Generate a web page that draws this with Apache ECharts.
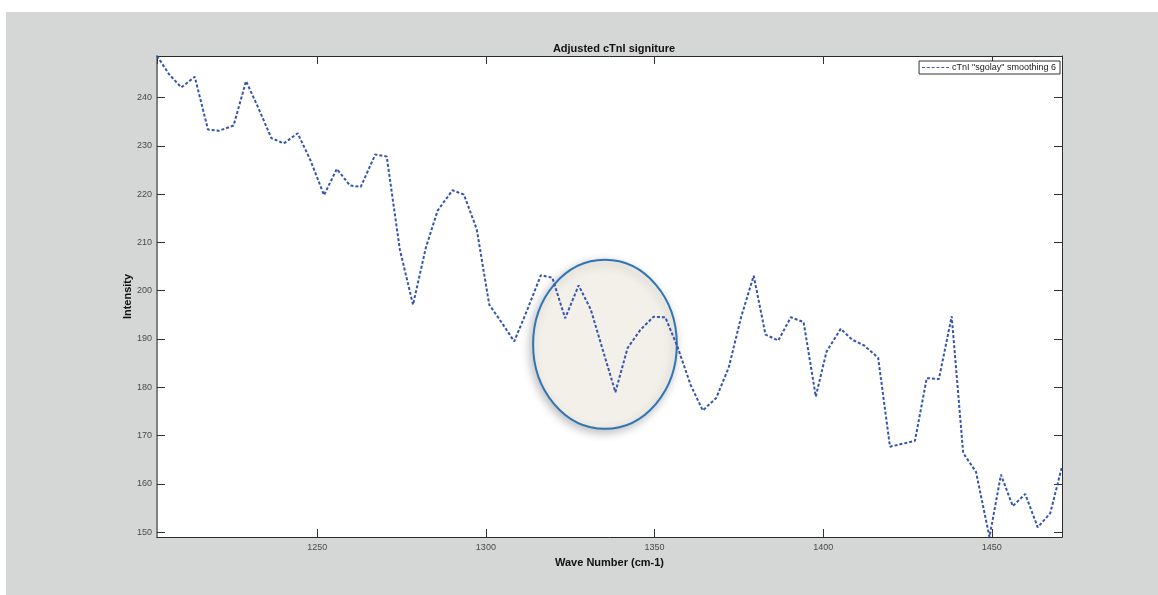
<!DOCTYPE html>
<html>
<head>
<meta charset="utf-8">
<title>Adjusted cTnI signiture</title>
<script src="https://cdn.jsdelivr.net/npm/echarts@6/dist/echarts.min.js"></script>
<style>
    html, body { margin: 0; padding: 0; background: #fff; }
    #frame { position: absolute; left: 6px; top: 12px; right: 0; bottom: 0; background: #d5d6d6; }
    #main { position: absolute; left: 0; top: 0; width: 1158px; height: 595px; }
</style>
</head>
<body>
<div id="frame"></div>
<div id="main"></div>
<script>
// wave numbers (cm-1)
var waveNumbers = [
    1202.5, 1206.1, 1209.7, 1213.7, 1217.6, 1220.8, 1225.2, 1228.9, 1232.7, 1236.4,
    1240.1, 1244.2, 1248.0, 1252.0, 1255.8, 1259.7, 1262.9, 1267.2, 1270.6, 1274.5,
    1278.4, 1282.2, 1285.7, 1290.1, 1293.5, 1297.3, 1301.0, 1304.7, 1308.4, 1312.3,
    1316.3, 1319.7, 1323.5, 1327.5, 1331.1, 1334.8, 1338.4, 1342.0, 1345.8, 1349.7,
    1353.2, 1356.8, 1360.7, 1364.3, 1368.3, 1372.0, 1375.7, 1379.4, 1382.9, 1386.7,
    1390.4, 1394.2, 1397.8, 1401.0, 1405.2, 1408.5, 1412.3, 1416.3, 1419.8, 1423.5,
    1427.2, 1430.7, 1434.3, 1438.1, 1441.5, 1445.3, 1449.3, 1452.7, 1456.2, 1459.9,
    1463.6, 1467.3, 1470.8
];
// smoothed intensity
var intensity = [
    248.6, 244.8, 242.1, 244.3, 233.4, 233.1, 234.2, 243.4, 237.6, 231.6,
    230.5, 232.6, 227.0, 219.8, 225.2, 221.8, 221.5, 228.2, 227.8, 208.5,
    197.1, 208.9, 216.6, 220.8, 219.9, 212.7, 197.1, 193.4, 189.5, 196.1,
    203.2, 202.7, 194.3, 201.1, 196.1, 187.4, 179.0, 188.1, 191.9, 194.6,
    194.5, 188.4, 180.5, 175.2, 177.8, 184.1, 194.6, 203.1, 190.9, 189.7,
    194.5, 193.5, 178.1, 187.4, 192.1, 189.9, 188.6, 186.1, 167.7, 168.3,
    168.9, 181.9, 181.7, 194.7, 166.4, 162.5, 149.0, 161.9, 155.4, 157.9,
    151.0, 153.9, 163.6
];
var seriesName = 'cTnI "sgolay" smoothing 6';
// highlighted region: centre and half-widths in data units
var markCenter = [1335.3, 188.9];
var markRadius = [21.3, 17.5];

var myChart = echarts.init(document.getElementById('main'));

var points = [];
for (var i = 0; i < waveNumbers.length; i++) {
    points.push([waveNumbers[i], intensity[i]]);
}

var xMin = Math.min.apply(null, waveNumbers), xMax = Math.max.apply(null, waveNumbers);
var yMin = Math.min.apply(null, intensity), yMax = Math.max.apply(null, intensity);

var font = 'Liberation Sans, Arial, sans-serif';
var labelColor = '#4a4a4a';
var frameLine = { show: true, onZero: false, lineStyle: { color: '#2b2b2b', width: 1 } };
// dashed legend sample, like the matlab one
var dashIcon = 'path://M0,0h3v1h-3z M5,0h3v1h-3z M10,0h3v1h-3z M15,0h3v1h-3z M20,0h3v1h-3z M25,0h3v1h-3z';

function plainNum(v) { return String(v); }

var option = {
    backgroundColor: 'transparent',
    animation: false,
    title: {
        text: 'Adjusted cTnI signiture',
        left: 609,
        textAlign: 'center',
        top: 38,
        textStyle: { fontSize: 11, fontWeight: 'bold', color: '#111', fontFamily: font }
    },
    legend: {
        right: 98,
        top: 61,
        padding: [2, 4, 2, 3],
        itemWidth: 27,
        itemHeight: 3,
        itemGap: 4,
        borderColor: '#333',
        borderWidth: 1,
        borderRadius: 0,
        backgroundColor: '#fff',
        textStyle: { fontSize: 9, color: '#222', fontFamily: font, padding: [0, 0, 0, -2] },
        data: [{ name: seriesName, icon: dashIcon }]
    },
    grid: {
        left: 157, right: 96, top: 56, bottom: 58,
        outerBoundsMode: 'none',
        show: true,
        backgroundColor: '#fff',
        borderWidth: 0
    },
    xAxis: [{
        type: 'value',
        min: xMin, max: xMax,
        minInterval: 50, maxInterval: 50,
        name: 'Wave Number (cm-1)',
        nameLocation: 'middle',
        nameGap: 20,
        nameMoveOverlap: false,
        nameTextStyle: { fontSize: 11, fontWeight: 'bold', color: '#111', fontFamily: font },
        axisLine: frameLine,
        axisTick: { inside: true, length: 8, lineStyle: { color: '#333' } },
        axisLabel: { showMinLabel: false, showMaxLabel: false, margin: 6, formatter: plainNum, color: labelColor, fontSize: 9, fontFamily: font },
        splitLine: { show: false }
    }, {
        type: 'value',
        position: 'top',
        min: xMin, max: xMax,
        minInterval: 50, maxInterval: 50,
        axisLine: frameLine,
        axisTick: { inside: true, length: 8, lineStyle: { color: '#333' } },
        axisLabel: { show: false },
        splitLine: { show: false }
    }],
    yAxis: [{
        type: 'value',
        min: yMin, max: yMax,
        minInterval: 10, maxInterval: 10,
        name: 'Intensity',
        nameLocation: 'middle',
        nameGap: 24,
        nameMoveOverlap: false,
        nameTextStyle: { fontSize: 11, fontWeight: 'bold', color: '#111', fontFamily: font },
        axisLine: { show: true, onZero: false, lineStyle: { color: '#808080', width: 2 } },
        axisTick: { inside: true, length: 8, lineStyle: { color: '#333' } },
        axisLabel: { showMinLabel: false, showMaxLabel: false, margin: 5, formatter: plainNum, color: labelColor, fontSize: 9, fontFamily: font },
        splitLine: { show: false }
    }, {
        type: 'value',
        position: 'right',
        min: yMin, max: yMax,
        minInterval: 10, maxInterval: 10,
        axisLine: frameLine,
        axisTick: { inside: true, length: 8, lineStyle: { color: '#333' } },
        axisLabel: { show: false },
        splitLine: { show: false }
    }],
    series: [{
        name: seriesName,
        type: 'line',
        xAxisIndex: 0,
        yAxisIndex: 0,
        symbol: 'none',
        z: 3,
        lineStyle: { color: '#3355b0', width: 2, type: [3, 2] },
        itemStyle: { color: '#3355b0' },
        data: points
    }]
};

myChart.setOption(option);

// ellipse drawn around the region of interest, placed from data coordinates
var c = myChart.convertToPixel({ gridIndex: 0 }, markCenter);
var cx = myChart.convertToPixel({ gridIndex: 0 }, [markCenter[0] + markRadius[0], markCenter[1]]);
var cy = myChart.convertToPixel({ gridIndex: 0 }, [markCenter[0], markCenter[1] + markRadius[1]]);
myChart.setOption({
    graphic: [{
        type: 'ellipse',
        z: 1,
        shape: { cx: c[0], cy: c[1], rx: Math.abs(cx[0] - c[0]), ry: Math.abs(c[1] - cy[1]) },
        style: {
            fill: '#f3efe9',
            stroke: '#2e75b6',
            lineWidth: 2,
            shadowBlur: 10,
            shadowOffsetX: -2,
            shadowOffsetY: 3,
            shadowColor: 'rgba(0,0,0,0.25)'
        }
    }]
});
</script>
</body>
</html>
